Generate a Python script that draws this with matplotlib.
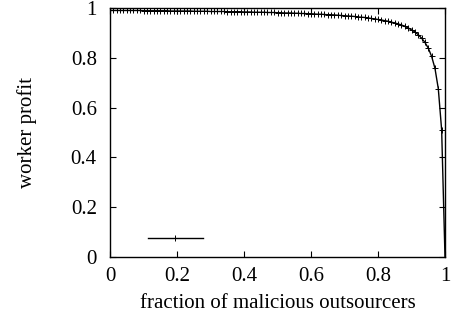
import matplotlib
matplotlib.use("Agg")
import matplotlib.pyplot as plt
from matplotlib.ticker import FixedLocator

fraction = [i / 100 for i in range(101)]
profit = [
    0.990, 0.990, 0.990, 0.990, 0.990, 0.990, 0.990, 0.990, 0.990, 0.990,
    0.989, 0.989, 0.989, 0.989, 0.989, 0.989, 0.989, 0.989, 0.988, 0.988,
    0.988, 0.988, 0.988, 0.988, 0.988, 0.987, 0.987, 0.987, 0.987, 0.987,
    0.986, 0.986, 0.986, 0.986, 0.986, 0.985, 0.985, 0.985, 0.985, 0.985,
    0.984, 0.984, 0.984, 0.983, 0.983, 0.983, 0.983, 0.982, 0.982, 0.982,
    0.981, 0.981, 0.980, 0.980, 0.980, 0.979, 0.979, 0.978, 0.978, 0.977,
    0.977, 0.976, 0.975, 0.975, 0.974, 0.973, 0.973, 0.972, 0.971, 0.970,
    0.969, 0.968, 0.967, 0.966, 0.964, 0.963, 0.962, 0.960, 0.958, 0.956,
    0.954, 0.952, 0.949, 0.947, 0.943, 0.940, 0.936, 0.932, 0.926, 0.920,
    0.912, 0.904, 0.893, 0.879, 0.862, 0.839, 0.806, 0.758, 0.676, 0.510,
    0.000,
]
xticks = [0, 0.2, 0.4, 0.6, 0.8, 1]
xticklabels = ["0", "0.2", "0.4", "0.6", "0.8", "1"]
yticks = [0, 0.2, 0.4, 0.6, 0.8, 1]
yticklabels = ["0", "0.2", "0.4", "0.6", "0.8", "1"]

plt.rcParams['font.family'] = ['Liberation Serif', 'DejaVu Serif']
plt.rcParams['font.size'] = 15

fig = plt.figure(figsize=(4.53, 3.25), dpi=100)
ax = fig.add_axes([110/453, 1-257/325, 335/453, 249/325])

line, = ax.plot(fraction, profit, color='black', linewidth=1.0,
                marker='+', markersize=4, markeredgewidth=0.7)

ax.set_xlim(0, 1)
ax.set_ylim(0, 1)
ax.xaxis.set_major_locator(FixedLocator(xticks))
ax.yaxis.set_major_locator(FixedLocator(yticks))
ax.set_xticklabels(xticklabels)
ax.set_yticklabels(yticklabels)
ax.tick_params(direction='in', top=True, right=True, length=4, width=0.8)
ax.tick_params(axis='y', pad=9.5)
ax.tick_params(axis='x', pad=7)
for s in ax.spines.values():
    s.set_linewidth(1.0)

ax.set_xlabel("fraction of malicious outsourcers", labelpad=6)
ax.set_ylabel("worker profit", labelpad=24)

ax.legend([line], [''], loc='center left', bbox_to_anchor=(0.113, 0.066),
          frameon=False, handlelength=2.64, handletextpad=0, borderpad=0,
          borderaxespad=0)

fig.savefig("out.png", dpi=100)
